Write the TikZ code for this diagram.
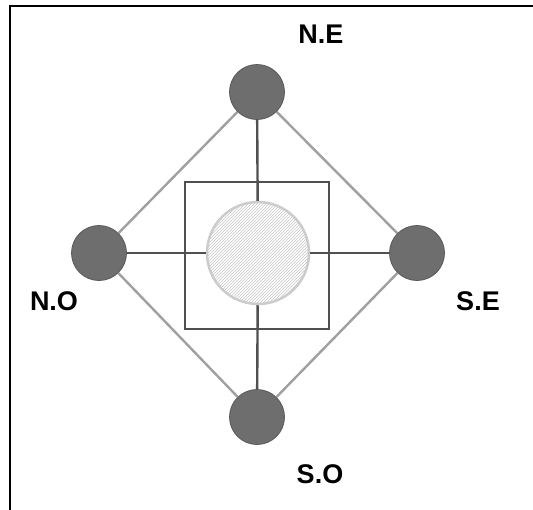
\documentclass[tikz,border=0pt]{standalone}
\usepackage{fontspec}
\setmainfont{Liberation Sans}
\usetikzlibrary{patterns}
\definecolor{discgray}{HTML}{6E6E6E}
\definecolor{spokegray}{HTML}{505050}
\definecolor{edgegray}{HTML}{A0A0A0}
\tikzset{
  outer/.style={circle, fill=discgray, draw=discgray!80!black, line width=0.8pt, minimum size=55pt, inner sep=0pt},
  hub/.style={circle, draw=gray!40, line width=2.5pt, fill=gray!12, pattern=north east lines, pattern color=gray!45, minimum size=102pt, inner sep=0pt},
  spoke/.style={spokegray, line width=2.4pt},
  rim/.style={edgegray, line width=2.4pt},
  tag/.style={font=\fontsize{27}{27}\selectfont\bfseries, text=black}
}
\begin{document}
\begin{tikzpicture}[x=1pt, y=-1pt]
    \useasboundingbox (0,0) rectangle (533,509);
    \fill[white] (0,0) rectangle (533,509);
    \draw[line width=2.5pt, black] (10,520) -- (10,6) -- (545,6);

    % square round the hub
    \draw[spokegray, line width=2.4pt] (185,182) rectangle (329,329);

    \node[hub] (hub) at (258,253) {};
    \node[outer] (ne) at (257,92) {};
    \node[outer] (no) at (99,253) {};
    \node[outer] (se) at (417,253) {};
    \node[outer] (so) at (257,417) {};

    \draw[rim] (ne) -- (se);
    \draw[rim] (se) -- (so);
    \draw[rim] (so) -- (no);
    \draw[rim] (no) -- (ne);

    \draw[spoke] (ne) -- (hub);
    \draw[spoke] (no) -- (hub);
    \draw[spoke] (se) -- (hub);
    \draw[spoke] (so) -- (hub);

    \node[tag] (lne) at (321,34) {N.E};
    \node[tag] (lno) at (54,301) {N.O};
    \node[tag] (lse) at (478,301) {S.E};
    \node[tag] (lso) at (320,474) {S.O};
\end{tikzpicture}
\end{document}
